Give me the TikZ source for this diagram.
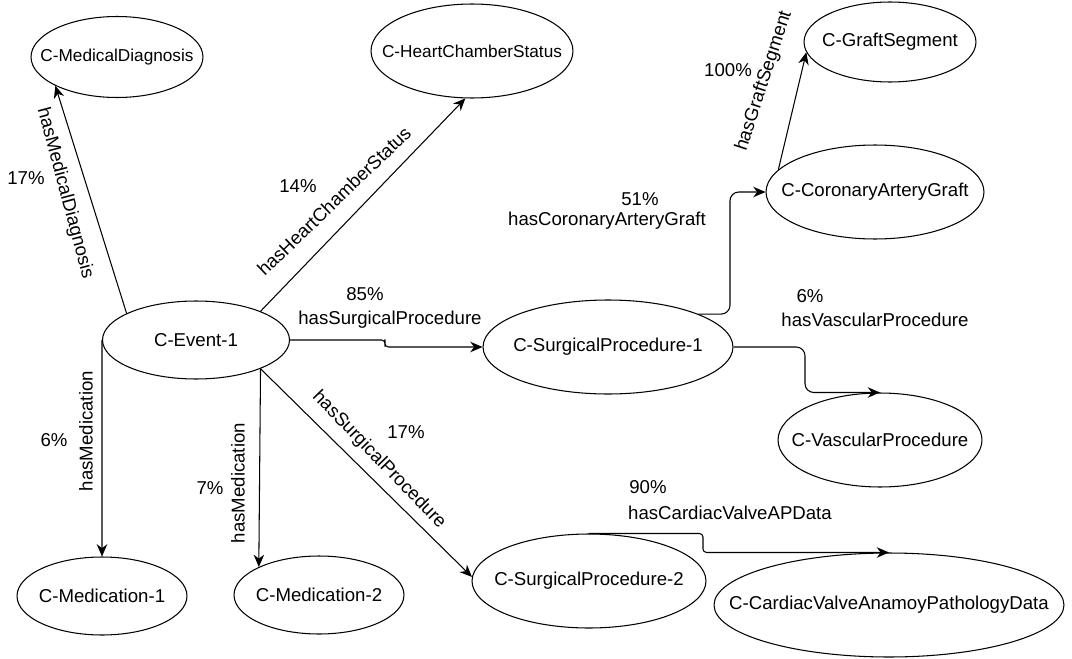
\documentclass[tikz,border=0pt]{standalone}
\usepackage{fontspec}
\setmainfont{Liberation Sans}
\usetikzlibrary{shapes.geometric,arrows.meta}
\newcommand{\ctext}[1]{\makebox[0pt]{#1}}

\begin{document}
\begin{tikzpicture}
  [x=0.02cm,y=-0.02cm,font=\fontsize{10.6}{12.5}\selectfont,
   concept/.style 2 args={ellipse,draw,line width=0.6pt,inner sep=0pt,minimum width=#1,minimum height=#2},
   small/.style={font=\fontsize{9.8}{11.5}\selectfont},
   lbl/.style={inner sep=0pt},
   link/.style={draw,line width=0.6pt},
   arr/.style={-{Stealth[length=7pt,width=6pt]}}]
  \useasboundingbox (0,0) rectangle (1072,659);
  \node[concept={3.44cm}{1.62cm},small] (md) at (117,57) {\ctext{C-MedicalDiagnosis}};
  \node[concept={4.04cm}{1.88cm},small] (hcs) at (472,51) {\ctext{C-HeartChamberStatus}};
  \node[concept={3.44cm}{1.6cm}] (gs) at (890,42) {\ctext{C-GraftSegment}};
  \node[concept={4.36cm}{1.88cm}] (cag) at (875,192) {\ctext{C-CoronaryArteryGraft}};
  \node[concept={3.74cm}{1.56cm}] (e1) at (196,340) {\ctext{C-Event-1}};
  \node[concept={5.0cm}{1.88cm}] (sp1) at (608,347) {\ctext{C-SurgicalProcedure-1}};
  \node[concept={4.08cm}{1.88cm}] (vp) at (880,440) {\ctext{C-VascularProcedure}};
  \node[concept={3.4cm}{1.56cm}] (m1) at (102,596) {\ctext{C-Medication-1}};
  \node[concept={3.4cm}{1.56cm}] (m2) at (319,595) {\ctext{C-Medication-2}};
  \node[concept={4.68cm}{1.88cm}] (sp2) at (589,581) {\ctext{C-SurgicalProcedure-2}};
  \node[concept={7.0cm}{2.08cm}] (cv) at (889,605) {\ctext{C-CardiacValveAnamoyPathologyData}};

  \node[lbl] (p-md) at (26,178) {17\%};
  \node[lbl,rotate=-75] (l-md) at (65,193) {hasMedicalDiagnosis};
  \node[lbl] (p-hcs) at (298,186) {14\%};
  \node[lbl,rotate=44] (l-hcs) at (334,201) {hasHeartChamberStatus};
  \node[lbl] (p-sp1) at (365,294) {85\%};
  \node[lbl] (l-sp1) at (390,320) {hasSurgicalProcedure};
  \node[lbl] (p-cag) at (640,199) {51\%};
  \node[lbl] (l-cag) at (607,221) {hasCoronaryArteryGraft};
  \node[lbl] (p-gs) at (728,70) {100\%};
  \node[lbl,rotate=72] (l-gs) at (764,81) {hasGraftSegment};
  \node[lbl] (p-vp) at (810,296) {6\%};
  \node[lbl] (l-vp) at (875,320) {hasVascularProcedure};
  \node[lbl] (p-m1) at (54,440) {6\%};
  \node[lbl,rotate=90] (l-m1) at (86,431) {hasMedication};
  \node[lbl] (p-m2) at (210,488) {7\%};
  \node[lbl,rotate=90] (l-m2) at (238,483) {hasMedication};
  \node[lbl,rotate=-46] (l-sp2) at (379,460) {hasSurgicalProcedure};
  \node[lbl] (p-sp2) at (406,432) {17\%};
  \node[lbl] (p-cv) at (648,487) {90\%};
  \node[lbl] (l-cv) at (730,513) {hasCardiacValveAPData};

  \path[link]
        (e1.159) edge[arr] (md.205)
        (e1.24) edge[arr] (hcs.262)
        (cag.167) edge[arr] (gs.187)
        (e1.west) edge[arr] (m1.north)
        (e1.-24) edge[arr] (m2.155)
        (e1.-24) edge[arr] (sp2.178);
  \draw[link,arr,rounded corners=2pt] (e1.east) -| (385,343) |- (sp1.west);
  \draw[link,arr,rounded corners=5pt] (sp1.20) -| (730,250) |- (cag.west);
  \draw[link,arr,rounded corners=5pt] (sp1.east) -| (805,370) |- (vp.north);
  \draw[link,arr,rounded corners=2pt] (sp2.north) -| (703,541) |- (cv.north);
\end{tikzpicture}
\end{document}
